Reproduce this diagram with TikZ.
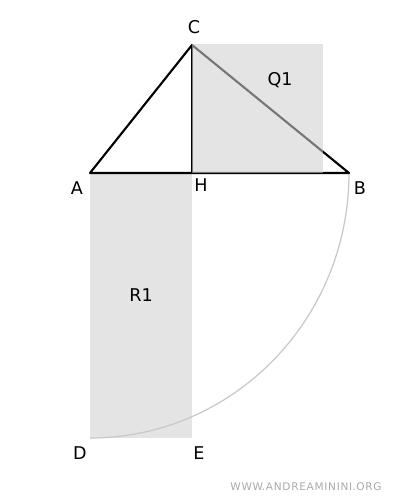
\documentclass[tikz,border=0pt]{standalone}
\usepackage{fontspec}
\setmainfont{DejaVu Sans}
\definecolor{boxgray}{RGB}{228,228,228}
\definecolor{overgray}{RGB}{208,208,208}
\definecolor{arcgray}{RGB}{200,200,200}
\definecolor{markgray}{RGB}{170,170,170}
\tikzset{
  lbl/.style={font=\fontsize{10}{12}\selectfont, inner sep=0pt},
  side/.style={line width=1.2pt, line join=round}
}
\begin{document}
\begin{tikzpicture}[x=0.02cm, y=-0.02cm]
            \useasboundingbox (0,0) rectangle (400,500);
            % Points
            \coordinate (A) at (90,173);
            \coordinate (H) at (192,173);
            \coordinate (B) at (349,173);
            \coordinate (C) at (192,45);
            \coordinate (D) at (90,438);
            \coordinate (E) at (192,438);
            % Rectangle R1
            \fill[boxgray] (A) rectangle (E);
            % Arc from B to D
            \draw[arcgray, line width=0.7pt] (B) arc[start angle=0, end angle=-90, x radius=259, y radius=-265];
            % Triangle and height
            \draw[side] (A) -- (C) -- (B) -- cycle;
            \draw[side] (C) -- (H);
            % Square Q1
            \fill[overgray, fill opacity=0.57] (192,44) rectangle (323,173);
            % Labels
            \foreach \p/\x/\y in {C/194/27, A/77/188, H/201/185, B/360/188, D/80/453, E/199/453, Q1/280/80, R1/141/295} {
                \node[lbl] (l\p) at (\x,\y) {\p};
            }
            \node[font=\fontsize{6}{7}\selectfont, text=markgray, inner sep=0pt] (mark) at (306,487) {W\kern.4pt W\kern.4pt W.\kern.4pt A\kern.4pt N\kern.4pt D\kern.4pt R\kern.4pt E\kern.4pt A\kern.4pt M\kern.4pt I\kern.4pt N\kern.4pt I\kern.4pt N\kern.4pt I.\kern.4pt O\kern.4pt R\kern.4pt G};
        \end{tikzpicture}
\end{document}
